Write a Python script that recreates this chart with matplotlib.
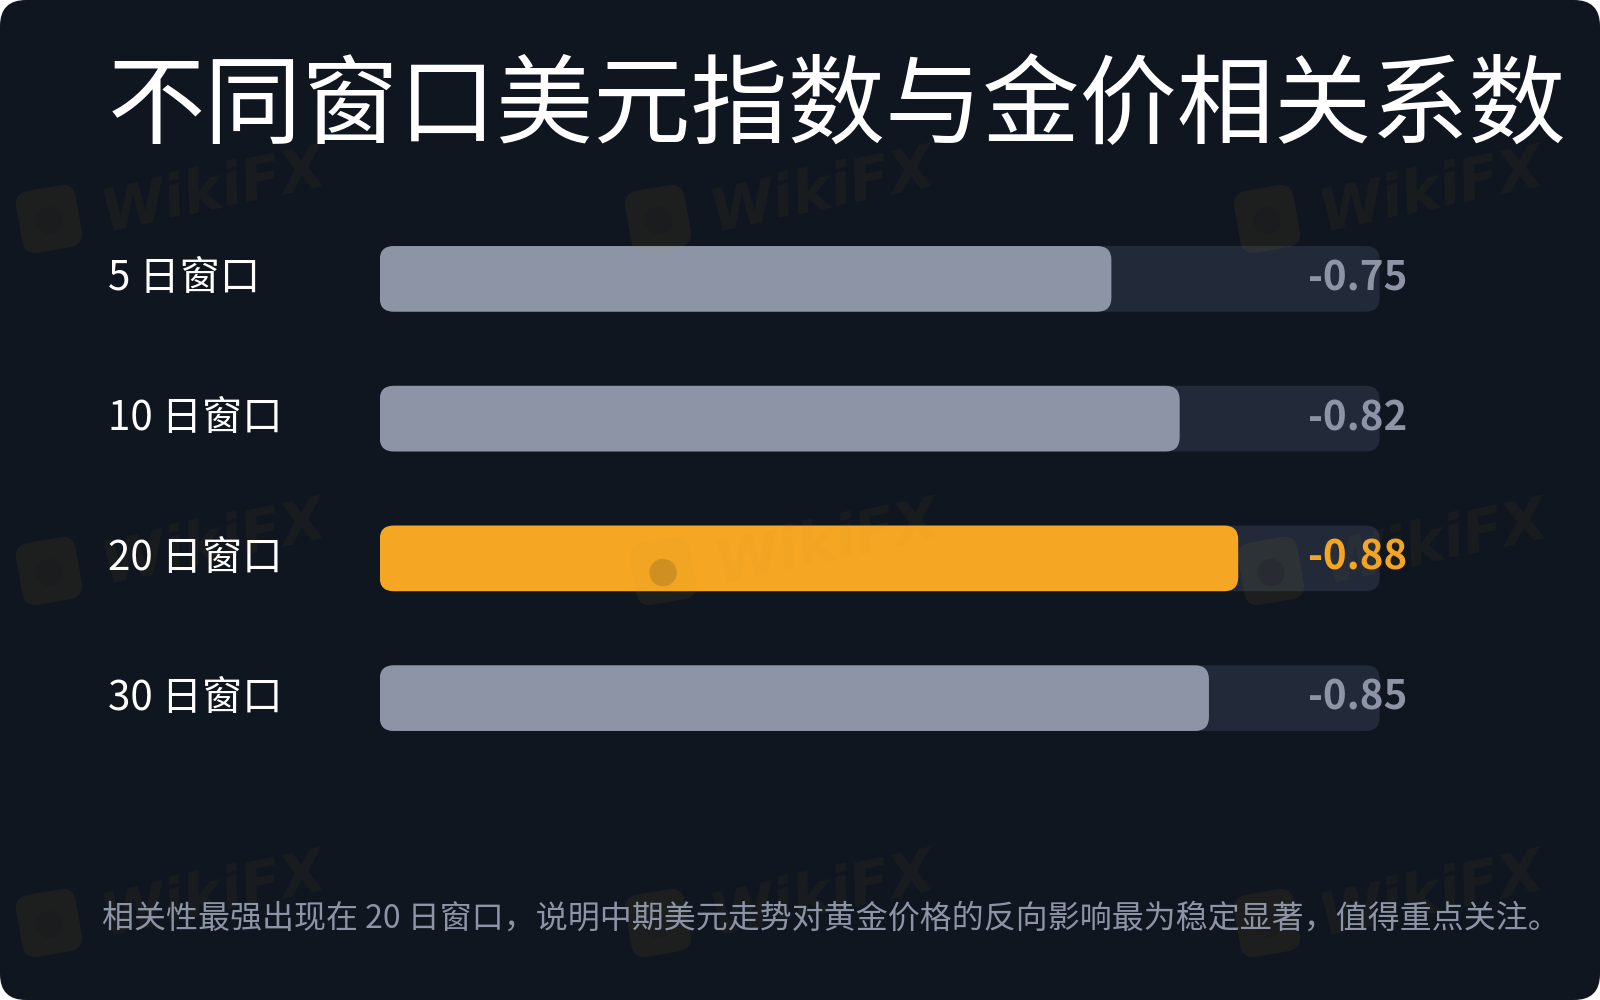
import matplotlib
matplotlib.use("Agg")
import matplotlib.pyplot as plt
from matplotlib.patches import FancyBboxPatch
from matplotlib.transforms import blended_transform_factory

# data
windows = ["5 日窗口", "10 日窗口", "20 日窗口", "30 日窗口"]
corr = [-0.75, -0.82, -0.88, -0.85]
highlight = "20 日窗口"
title = "不同窗口美元指数与金价相关系数"
note = "相关性最强出现在 20 日窗口，说明中期美元走势对黄金价格的反向影响最为稳定显著，值得重点关注。"

BG = "#10161f"
TRACK = "#222a39"
GREY = "#8c94a6"
ORANGE = "#f5a623"
plt.rcParams["font.family"] = ["Noto Sans CJK SC", "DejaVu Sans"]

W, H = 1600, 1000
fig = plt.figure(figsize=(16, 10), dpi=100, facecolor="white")

# card background
bg = fig.add_axes([0, 0, 1, 1])
bg.set_axis_off(); bg.set_xlim(0, W); bg.set_ylim(H, 0)
bg.add_patch(FancyBboxPatch((0, 0), W, H, boxstyle="round,pad=0,rounding_size=26",
                            fc=BG, ec="none"))

# bars
left, bottom, width, height = 0.2373, 0.232, 0.625, 0.559
ax = fig.add_axes([left, bottom, width, height])
ax.set_axis_off()
xmax = 1.025
ax.set_xlim(0, xmax)
ax.set_ylim(len(windows) - 0.5, -0.5)
px_x = width * W / xmax
px_y = height * H / len(windows)
aspect = px_x / px_y
r = 14 / px_x
bh = 0.47

lab_tr = blended_transform_factory(fig.transFigure, ax.transData)
for i, (lab, v) in enumerate(zip(windows, corr)):
    hot = lab == highlight
    ax.add_patch(FancyBboxPatch((0, i - bh / 2), xmax, bh,
                                boxstyle=f"round,pad=0,rounding_size={r}",
                                mutation_aspect=aspect, fc=TRACK, ec="none"))
    ax.add_patch(FancyBboxPatch((0, i - bh / 2), abs(v), bh,
                                boxstyle=f"round,pad=0,rounding_size={r}",
                                mutation_aspect=aspect, fc=ORANGE if hot else GREY, ec="none"))
    ax.annotate(f"{v:.2f}", xy=(xmax, i), xytext=(20, 0), textcoords="offset points",
                ha="right", va="center", fontsize=29, fontweight="semibold",
                color=ORANGE if hot else GREY, annotation_clip=False)
    ax.text(0.0675, i, lab, transform=lab_tr, ha="left", va="center",
            fontsize=29, color="white")

fig.text(0.0675, 0.892, title, ha="left", va="center", fontsize=70, color="white")
fig.text(0.064, 0.081, note, ha="left", va="center", fontsize=23, color=GREY)

# faint watermarks on top
wm = fig.add_axes([0, 0, 1, 1])
wm.set_axis_off(); wm.set_xlim(0, W); wm.set_ylim(H, 0); wm.patch.set_alpha(0)
for x, y in [(49, 219), (658, 219), (1267, 219), (49, 571), (663, 571), (1271, 571),
             (49, 923), (658, 923), (1267, 923)]:
    wm.text(x, y, "●", fontsize=26, color="#0b0f16", alpha=0.15, ha="center", va="center",
            rotation=10, family="DejaVu Sans",
            bbox=dict(boxstyle="round,pad=0.4", fc="#c9a227", ec="none", alpha=0.07))
    wm.text(x + 165, y - 28, "WikiFX", fontsize=42, fontweight="bold", style="italic",
            color="#c9a227", alpha=0.05, ha="center", va="center", rotation=12,
            family="DejaVu Sans")

fig.savefig("out.png", dpi=100, facecolor="white")
